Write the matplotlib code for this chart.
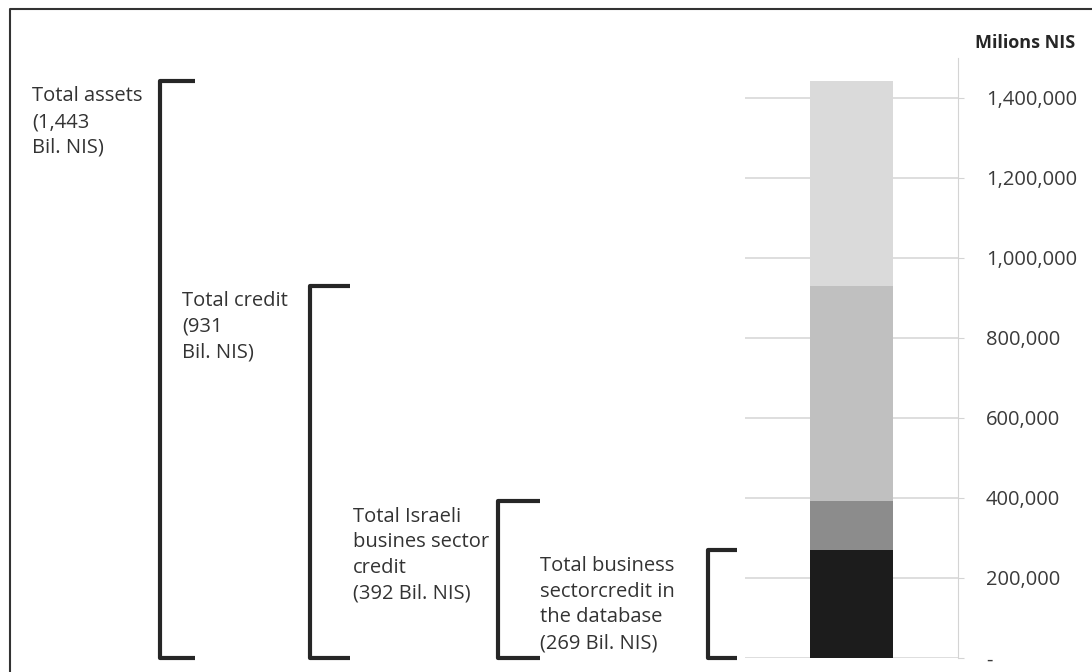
import matplotlib.pyplot as plt
from matplotlib.lines import Line2D
from matplotlib.ticker import FuncFormatter, MultipleLocator
from matplotlib.transforms import blended_transform_factory

plt.rcParams["font.family"] = ["Open Sans", "DejaVu Sans"]

# Stacked credit composition, millions NIS (cumulative levels)
segment_tops = [269_000, 392_000, 931_000, 1_443_000]
segment_colors = ["#1c1c1c", "#8c8c8c", "#c0c0c0", "#dadada"]

bracket_labels = [
    "Total assets\n(1,443\nBil. NIS)",
    "Total credit\n(931\nBil. NIS)",
    "Total Israeli\nbusines sector\ncredit\n(392 Bil. NIS)",
    "Total business\nsectorcredit in\nthe database\n(269 Bil. NIS)",
]
bracket_values = [1_443_000, 931_000, 392_000, 269_000]
# x positions in figure pixels: (text left, bracket spine, arm end)
bracket_x = [(32, 160, 195), (182, 310, 350), (353, 498, 540), (540, 708, 737)]

W, H = 1092, 672
fig = plt.figure(figsize=(W / 100, H / 100), dpi=100)
ax = fig.add_axes([745 / W, 14 / H, 213 / W, 600 / H])

bottom = 0
for top, color in zip(segment_tops, segment_colors):
    ax.bar(0, top - bottom, bottom=bottom, width=0.39, color=color, zorder=3)
    bottom = top

ax.set_xlim(-0.5, 0.5)
ax.set_ylim(0, 1_500_000)
ax.set_xticks([])
ax.yaxis.set_major_locator(MultipleLocator(200_000))
ax.yaxis.set_major_formatter(FuncFormatter(lambda v, _: "-" if v == 0 else f"{v:,.0f}"))
ax.yaxis.tick_right()
ax.tick_params(axis="y", length=4, color="#d4d4d4", pad=16, labelsize=14.5, labelcolor="#3a3a3a")
for side in ["left", "top", "bottom"]:
    ax.spines[side].set_visible(False)
ax.spines["right"].set_color("#d4d4d4")
ax.grid(axis="y", color="#d4d4d4", linewidth=1.1, zorder=0)
ax.set_axisbelow(True)

fig.text(975 / W, 1 - 43 / H, "Milions NIS", fontsize=13, fontweight="bold",
         color="#262626", va="center", ha="left")

# brackets share the bar's vertical scale
trans = blended_transform_factory(fig.transFigure, ax.transData)
for label, value, (tx, sx, ex) in zip(bracket_labels, bracket_values, bracket_x):
    fig.add_artist(Line2D([ex / W, sx / W, sx / W, ex / W], [value, value, 0, 0],
                          transform=trans, color="#262626", linewidth=3,
                          solid_joinstyle="round", solid_capstyle="butt"))
    ax.annotate(label, xy=(tx / W, value), xycoords=trans, xytext=(0, -4),
                textcoords="offset points", va="top", ha="left", fontsize=14.5,
                color="#333333", linespacing=1.38, annotation_clip=False)

# outer frame
fig.add_artist(Line2D([10 / W, 10 / W, 1.0], [0, 1 - 9 / H, 1 - 9 / H],
                      transform=fig.transFigure, color="#333333", linewidth=1.5))

fig.savefig("out.png", dpi=100)
